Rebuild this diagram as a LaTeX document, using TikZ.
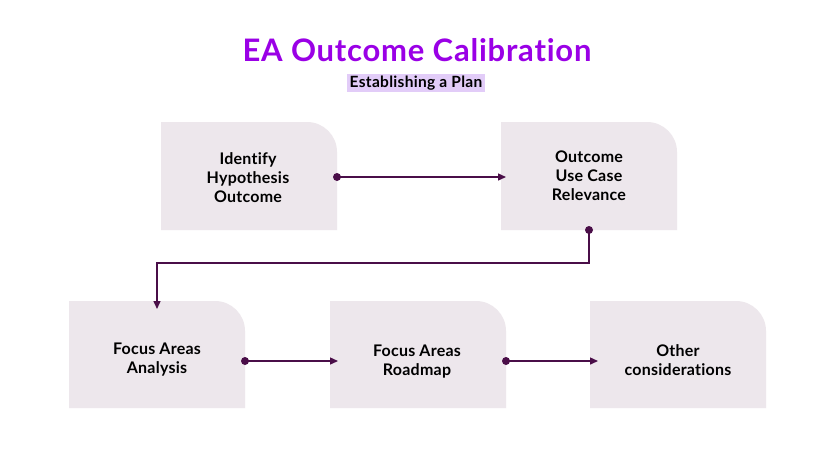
\documentclass[tikz,border=0pt]{standalone}
\usepackage{fontspec}
\setmainfont{Lato}[Ligatures=NoCommon]
\usetikzlibrary{arrows.meta}
\definecolor{boxfill}{HTML}{EDE7EC}
\definecolor{linecol}{HTML}{4A0E48}
\definecolor{titlecol}{HTML}{9A00E6}
\definecolor{hilite}{HTML}{E2CCF8}
\tikzset{
  boxtext/.style={font=\fontsize{16}{19}\selectfont\bfseries\addfontfeatures{LetterSpace=1.5}, align=center, text=black},
  conn/.style={draw=linecol, line width=1.4pt, -{Triangle[length=8pt,width=7pt]}},
  dotc/.style={circle, fill=linecol, inner sep=0pt, minimum size=8pt},
}
\newcommand{\roundbox}[5]{% name, x1, y1, x2, y2
  \fill[boxfill] (#2,#3) -- (#4-30,#3) arc[start angle=-90,end angle=0,radius=30] -- (#4,#5) -- (#2,#5) -- cycle;
  \coordinate (#1) at ({(#2+#4)/2},{(#3+#5)/2});
  \coordinate (#1-s) at ({(#2+#4)/2},#5);
}
\begin{document}
\begin{tikzpicture}[x=1pt,y=-1pt]
\useasboundingbox (0,0) rectangle (834,469);
\fill[white] (0,0) rectangle (834,469);
% title
\node[font=\fontsize{31}{34}\selectfont\bfseries\addfontfeatures{LetterSpace=2.5,Ligatures=NoCommon}, text=titlecol] (title) at (417,50) {EA Outcome Calibration};
\node[fill=hilite, inner xsep=3pt, inner ysep=2pt, minimum height=17pt, font=\fontsize{15.5}{18}\selectfont\bfseries\addfontfeatures{LetterSpace=2}, text=black] (sub) at (416,83) {Establishing a Plan};
% boxes
\roundbox{b1}{161}{122}{337}{230}
\roundbox{b2}{501}{122}{677}{230}
\roundbox{b3}{69}{301}{245}{408}
\roundbox{b4}{330}{301}{506}{408}
\roundbox{b5}{590}{301}{766}{408}
\node[boxtext] (t1) at (248,178) {Identify\\Hypothesis\\Outcome};
\node[boxtext] (t2) at (589,176) {Outcome\\Use Case\\Relevance};
\node[boxtext] (t3) at (157,360) {Focus Areas\\Analysis};
\node[boxtext] (t4) at (417,362) {Focus Areas\\Roadmap};
\node[boxtext] (t5) at (678,360) {Other\\considerations};
% connectors
\coordinate (d1) at (337,177);
\coordinate (a2) at (506,177);
\coordinate (a3) at (157,309);
\coordinate (d3) at (245,361);
\coordinate (a4) at (338,361);
\coordinate (d4) at (506,361);
\coordinate (a5) at (598,361);
\draw[conn] (d1) -- (a2);
\draw[conn] (b2-s) -- (589,263) -- (157,263) -- (a3);
\draw[conn] (d3) -- (a4);
\draw[conn] (d4) -- (a5);
\node[dotc] at (d1) {};
\node[dotc] at (b2-s) {};
\node[dotc] at (d3) {};
\node[dotc] at (d4) {};
\end{tikzpicture}
\end{document}
